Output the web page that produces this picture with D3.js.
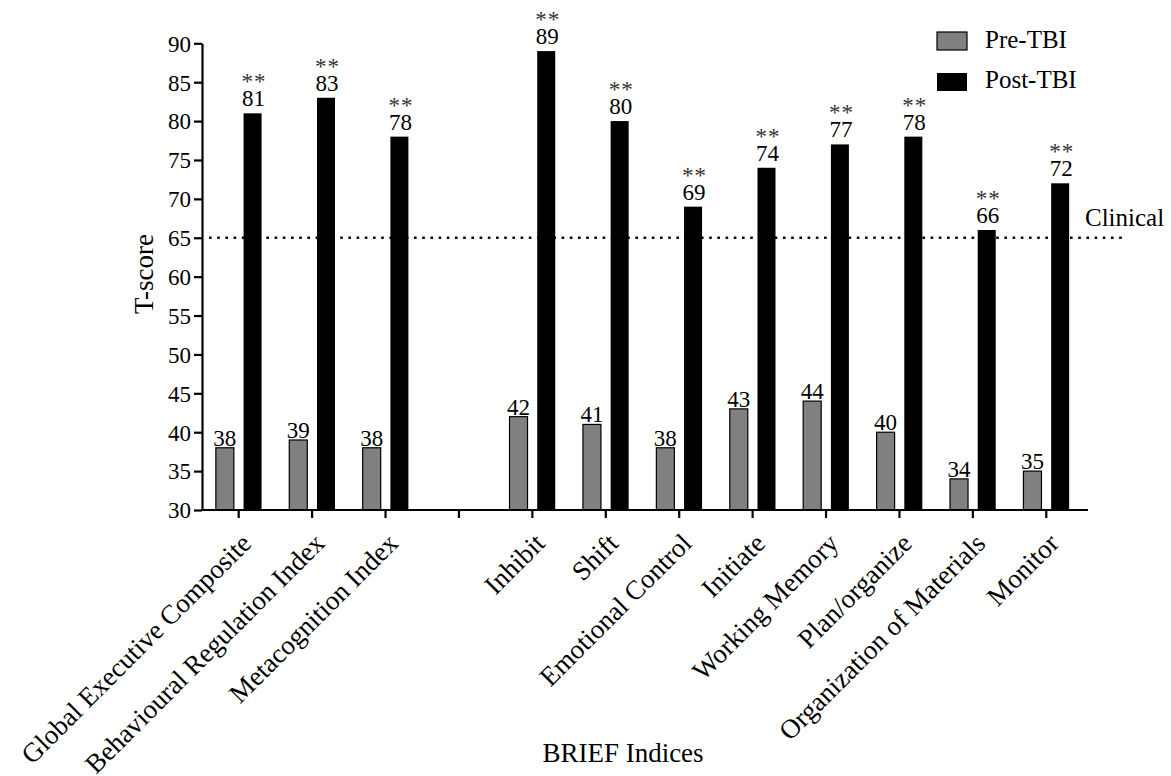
<!DOCTYPE html>
<html>
<head>
<meta charset="utf-8">
<script src="https://cdn.jsdelivr.net/npm/d3@7"></script>
</head>
<body style="margin:0;background:#fff">
<svg id="chart" width="1171" height="776" style="display:block"></svg>
<script>
// BRIEF index T-scores before and after the injury
const categories = [
  "Global Executive Composite", "Behavioural Regulation Index", "Metacognition Index",
  "",
  "Inhibit", "Shift", "Emotional Control", "Initiate", "Working Memory",
  "Plan/organize", "Organization of Materials", "Monitor"
];
const preTBI  = [38, 39, 38, null, 42, 41, 38, 43, 44, 40, 34, 35];
const postTBI = [81, 83, 78, null, 89, 80, 69, 74, 77, 78, 66, 72];
const postMarks = ["**", "**", "**", "", "**", "**", "**", "**", "**", "**", "**", "**"];
const seriesNames = ["Pre-TBI", "Post-TBI"];
const yTicks = [30, 35, 40, 45, 50, 55, 60, 65, 70, 75, 80, 85, 90];
const clinicalCutoff = 65;

const svg = d3.select("#chart");
const colors = { "Pre-TBI": "#808080", "Post-TBI": "#000000" };

const x = d3.scaleBand().domain(categories).range([202, 1083]);
const xSub = d3.scaleBand().domain(seriesNames).range([0, x.bandwidth()])
  .paddingInner(0.35).paddingOuter(0.5);
const y = d3.scaleLinear().domain([30, 90]).range([510, 43.3]);

// clinical cutoff line (behind the bars)
svg.append("line")
  .attr("x1", 209).attr("x2", 1122)
  .attr("y1", y(clinicalCutoff)).attr("y2", y(clinicalCutoff))
  .attr("stroke", "#000").attr("stroke-width", 2.6)
  .attr("stroke-dasharray", "2.6,5.6");
svg.append("text")
  .attr("x", 1085).attr("y", y(clinicalCutoff) - 12)
  .attr("font-size", 25).text("Clinical");

const rows = categories.map((c, i) => ({ c, pre: preTBI[i], post: postTBI[i], mark: postMarks[i] }))
  .filter(d => d.pre !== null);

// bars
svg.append("g").selectAll("rect").data(rows).join("rect")
  .attr("x", d => x(d.c) + xSub("Pre-TBI"))
  .attr("y", d => y(d.pre))
  .attr("width", xSub.bandwidth())
  .attr("height", d => y(30) - y(d.pre))
  .attr("fill", colors["Pre-TBI"]).attr("stroke", "#000").attr("stroke-width", 1.2);

svg.append("g").selectAll("rect").data(rows).join("rect")
  .attr("x", d => x(d.c) + xSub("Post-TBI"))
  .attr("y", d => y(d.post))
  .attr("width", xSub.bandwidth())
  .attr("height", d => y(30) - y(d.post))
  .attr("fill", colors["Post-TBI"]);

// value labels
const preLabels = svg.append("g").attr("font-size", 23).attr("text-anchor", "middle");
preLabels.selectAll("text").data(rows).join("text")
  .attr("x", d => x(d.c) + xSub("Pre-TBI") + xSub.bandwidth() / 2)
  .attr("y", d => y(d.pre) - 2)
  .text(d => d.pre);
const postLabels = svg.append("g").attr("font-size", 23).attr("text-anchor", "middle");
postLabels.selectAll("text").data(rows).join("text")
  .attr("x", d => x(d.c) + xSub("Post-TBI") + xSub.bandwidth() / 2 + 1)
  .attr("y", d => y(d.post) - 7)
  .text(d => d.post);
const markLabels = svg.append("g").attr("font-size", 23).attr("text-anchor", "middle");
markLabels.selectAll("text").data(rows).join("text")
  .attr("x", d => x(d.c) + xSub("Post-TBI") + xSub.bandwidth() / 2 + 1.5)
  .attr("y", d => y(d.post) - 24)
  .attr("fill", "#333")
  .attr("letter-spacing", 1)
  .text(d => d.mark);

// y axis
const yAxis = svg.append("g").attr("transform", "translate(202,0)")
  .call(d3.axisLeft(y).tickValues(yTicks).tickSize(8).tickPadding(3).tickSizeOuter(0));
yAxis.select(".domain").attr("stroke-width", 2.2);
yAxis.selectAll(".tick line").attr("stroke-width", 2.2);
yAxis.selectAll(".tick text").attr("font-size", 23)
  .attr("fill", "#000").attr("dy", "0.34em");

// x axis
const xAxis = svg.append("g").attr("transform", "translate(0,510)")
  .call(d3.axisBottom(x).tickSize(8).tickSizeOuter(0).tickFormat(""));
xAxis.select(".domain").attr("d", "M201,0H1088").attr("stroke-width", 2.2);
xAxis.selectAll(".tick line").attr("stroke-width", 2.2);

// rotated category labels
svg.append("g").attr("font-size", 27).attr("text-anchor", "end")
  .selectAll("text").data(categories.filter(c => c !== "")).join("text")
  .attr("transform", d => `translate(${x(d) + x.bandwidth() / 2 + 14},545) rotate(-45)`)
  .text(d => d);

// axis titles
svg.append("text").attr("font-size", 27).attr("text-anchor", "middle")
  .attr("transform", "translate(153,274) rotate(-90)").text("T-score");
svg.append("text").attr("font-size", 27).attr("text-anchor", "middle")
  .attr("x", 623).attr("y", 762).text("BRIEF Indices");

// legend
const legend = svg.append("g").attr("font-size", 25);
seriesNames.forEach((s, i) => {
  legend.append("rect")
    .attr("x", 937).attr("y", 32 + i * 41)
    .attr("width", 30).attr("height", 18)
    .attr("fill", colors[s])
    .attr("stroke", "#000").attr("stroke-width", s === "Pre-TBI" ? 1.2 : 0);
  legend.append("text").attr("x", 985).attr("y", 48 + i * 40).text(s);
});

// one serif face for every text on the chart
svg.selectAll("g").attr("font-family", null);
svg.selectAll("text")
  .attr("font-family", "Liberation Serif")
  .style("font-family", '"Liberation Serif"');
</script>
</body>
</html>
